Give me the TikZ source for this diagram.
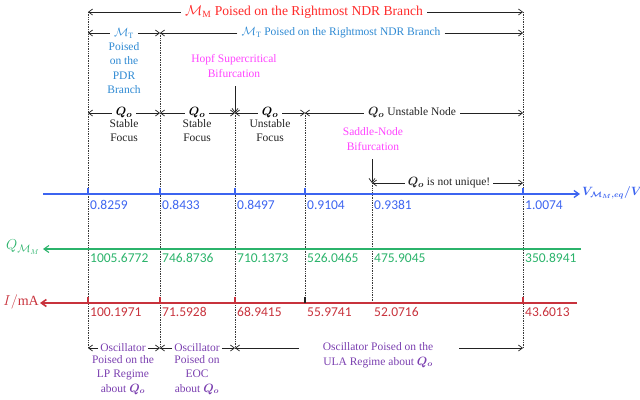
\documentclass[tikz,border=0pt]{standalone}
\usepackage{fontspec}
\usepackage{bm}
\setmainfont{Liberation Serif}
\newfontfamily\numfont{Carlito}
\usetikzlibrary{arrows.meta}
\definecolor{ttlred}{HTML}{FF2A2A}
\definecolor{mtblue}{HTML}{2F8AD3}
\definecolor{magent}{HTML}{FF44FF}
\definecolor{axblue}{HTML}{3C64F0}
\definecolor{axgreen}{HTML}{2BB36B}
\definecolor{axred}{HTML}{C8323C}
\definecolor{purp}{HTML}{7B40B0}
\definecolor{dk}{HTML}{222222}
\begin{document}
\begin{tikzpicture}[x=1pt,y=-1pt,
  lbl/.style={font=\fontsize{11.5}{14.5}\selectfont, inner sep=1.5pt, align=center},
  num/.style={font=\numfont\fontsize{13.5}{15}\selectfont, inner sep=0pt, anchor=west},
  arr/.style={-{Straight Barb[length=4pt,width=6pt]}, dk, line width=0.7pt},
  vdot/.style={densely dotted, gray!45!black, line width=0.7pt},
  axis/.style={line width=1.3pt},
  qo/.style={font=\fontsize{12.5}{14}\selectfont}]
\useasboundingbox (0,0) rectangle (640,399);
% vertical guide coordinates
\foreach \n/\x in {a/88,b/160,c/235,d/305,e/372,f/523}{
  \coordinate (\n12) at (\x,12);
  \coordinate (\n33) at (\x,33);
  \coordinate (\n113) at (\x,113);
  \coordinate (\n183) at (\x,183);
  \coordinate (\n303) at (\x,303);
  \coordinate (\n348) at (\x,348);
}
% dotted verticals
\draw[vdot] (a12) -- (a348);
\draw[vdot] (b33) -- (b348);
\draw[vdot] (c113) -- (c348);
\draw[vdot] (d113) -- (d303);
\draw[vdot] (e183) -- (e303);
\draw[vdot] (f12) -- (f348);
% axes
\coordinate (vl) at (43,194); \coordinate (vr) at (580,194);
\coordinate (gl) at (43,249); \coordinate (gr) at (581,249);
\coordinate (rl) at (40,303); \coordinate (rr) at (577,303);
\draw[axis, axblue, -{Straight Barb[length=5pt,width=7pt]}] (vl) -- (vr);
\draw[axis, axgreen, line width=1.1pt, -{Straight Barb[length=5pt,width=7pt]}] (gr) -- (gl);
\draw[axis, axred, line width=1.6pt, -{Straight Barb[length=5pt,width=7pt]}] (rr) -- (rl);
\foreach \x in {88,160,235,305,523}{ \draw[axblue, line width=1.1pt] (\x,188) -- (\x,194); }
\foreach \x in {88,160,235,523}{ \draw[axred, line width=1.3pt] (\x,297) -- (\x,303); }
\draw[dk, line width=1.1pt] (305,297) -- (305,303);
% axis labels
\node[anchor=west, axblue, inner sep=0pt, font=\large] (vlab) at (582,193) {$\bm{V_{\mathcal{M}_M,eq}/V}$};
\node[anchor=east, axgreen, inner sep=0pt, font=\fontsize{15}{17}\selectfont] (qlab) at (40,247) {$Q_{\mathcal{M}_M}$};
\node[anchor=east, axred, inner sep=0pt, font=\fontsize{14}{16}\selectfont] (ilab) at (39,302) {$I/$mA};
% values
\foreach \x/\v in {88/0.8259,160/0.8433,235/0.8497,305/0.9104,372/0.9381,523/1.0074}{
  \node[num, text=axblue] at (\x+2,205) {\v};}
\foreach \x/\v in {88/1005.6772,160/746.8736,235/710.1373,305/526.0465,372/475.9045,523/350.8941}{
  \node[num, text=axgreen] at (\x+2,258) {\v};}
\foreach \x/\v in {88/100.1971,160/71.5928,235/68.9415,305/55.9741,372/52.0716,523/43.6013}{
  \node[num, text=axred] at (\x+2,312) {\v};}
% top red row
\node[lbl, text=ttlred, inner sep=4pt, font=\fontsize{13.6}{15}\selectfont] (mm) at (304,12) {$\mathcal{M}_\mathrm{M}$ Poised on the Rightmost NDR Branch};
\draw[arr] (mm.west) -- (a12);
\draw[arr] (mm.east) -- (f12);
% M_T row
\node[lbl, text=mtblue, inner sep=4pt] (mt1) at (124,33) {$\mathcal{M}_\mathrm{T}$};
\draw[arr] (mt1.west) -- (a33);
\draw[arr] (mt1.east) -- (b33);
\node[lbl, text=mtblue, anchor=north, inner sep=0pt] (mt1b) at (124,42) {Poised\\on the\\PDR\\Branch};
\node[lbl, text=mtblue, inner sep=4pt] (mt2) at (341,33) {$\mathcal{M}_\mathrm{T}$ Poised on the Rightmost NDR Branch};
\draw[arr] (mt2.west) -- (b33);
\draw[arr] (mt2.east) -- (f33);
% Hopf
\node[lbl, text=magent] (hopf) at (234,66) {Hopf Supercritical\\Bifurcation};
\coordinate (hopfs) at (235,86);
\draw[arr] (hopfs) -- (c113);
% Q_o row
\node[lbl, qo, inner sep=4pt] (q1) at (124,113) {$\bm{Q_o}$};
\draw[arr] (q1.west) -- (a113); \draw[arr] (q1.east) -- (b113);
\node[lbl, text=dk, anchor=north, inner sep=0pt] (s1) at (124,119) {Stable\\Focus};
\node[lbl, qo, inner sep=4pt] (q2) at (197,113) {$\bm{Q_o}$};
\draw[arr] (q2.west) -- (b113); \draw[arr] (q2.east) -- (c113);
\node[lbl, text=dk, anchor=north, inner sep=0pt] (s2) at (197,119) {Stable\\Focus};
\node[lbl, qo, inner sep=4pt] (q3) at (270,113) {$\bm{Q_o}$};
\draw[arr] (q3.west) -- (c113); \draw[arr] (q3.east) -- (d113);
\node[lbl, text=dk, anchor=north, inner sep=0pt] (s3) at (270,119) {Unstable\\Focus};
\node[lbl, text=dk, inner sep=4pt] (q4) at (412,113) {{\fontsize{12.5}{14}\selectfont$\bm{Q_o}$} Unstable Node};
\draw[arr] (q4.west) -- (d113); \draw[arr] (q4.east) -- (f113);
% Saddle-node
\node[lbl, text=magent] (sn) at (373,139) {Saddle-Node\\Bifurcation};
\coordinate (sns) at (372,159);
\draw[arr] (sns) -- (e183);
\node[lbl, text=dk, inner sep=3pt] (nu) at (449,183) {{\fontsize{12.5}{14}\selectfont$\bm{Q_o}$} is not unique!};
\draw[arr] (nu.west) -- (e183); \draw[arr] (nu.east) -- (f183);
% bottom purple row
\node[lbl, text=purp, inner sep=2pt] (o1) at (123,348) {Oscillator};
\draw[arr] (o1.west) -- (a348); \draw[arr] (o1.east) -- (b348);
\node[lbl, text=purp, anchor=north, inner sep=0pt] (o1b) at (123,355) {Poised on the\\LP Regime\\about $\bm{Q_o}$};
\node[lbl, text=purp, inner sep=2pt] (o2) at (197,348) {Oscillator};
\draw[arr] (o2.west) -- (b348); \draw[arr] (o2.east) -- (c348);
\node[lbl, text=purp, anchor=north, inner sep=0pt] (o2b) at (197,355) {Poised on\\EOC\\about $\bm{Q_o}$};
\node[lbl, text=purp, inner sep=0pt] (o3) at (378,355) {Oscillator Poised on the\\ULA Regime about $\bm{Q_o}$};
\coordinate (o3l) at (299,348); \coordinate (o3r) at (459,348);
\draw[arr] (o3l) -- (c348); \draw[arr] (o3r) -- (f348);
\end{tikzpicture}
\end{document}
